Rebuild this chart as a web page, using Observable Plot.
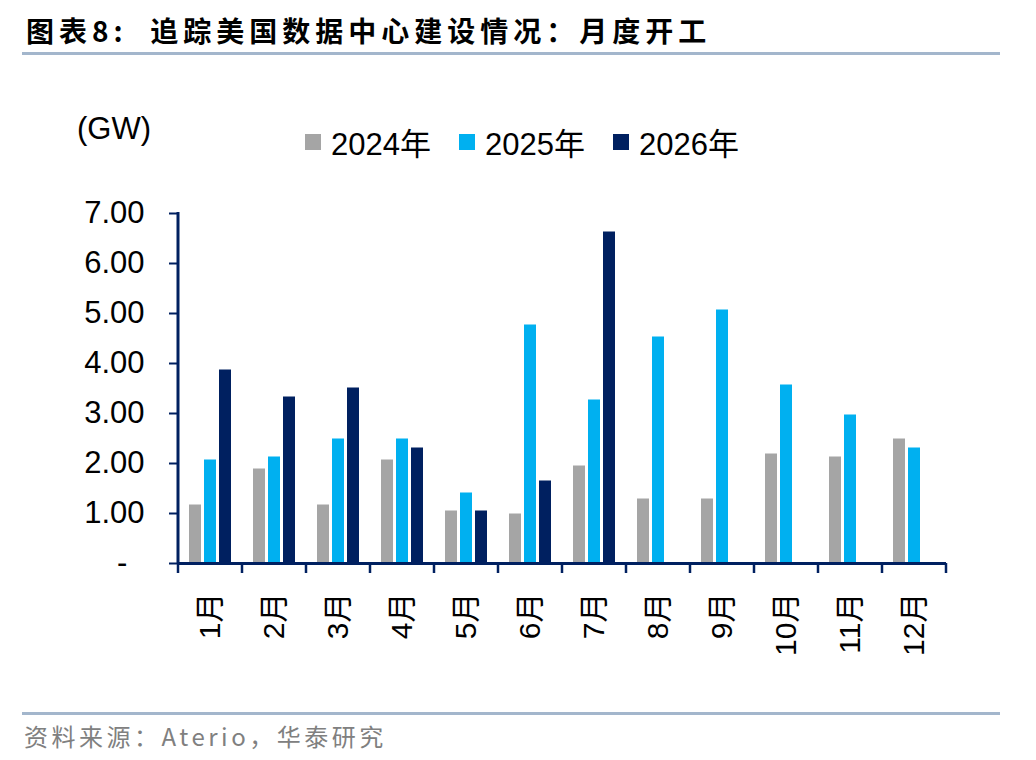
<!DOCTYPE html>
<html>
<head>
<meta charset="utf-8">
<script src="https://cdn.jsdelivr.net/npm/d3@7"></script>
<script src="https://cdn.jsdelivr.net/npm/@observablehq/plot@0.6"></script>
<style>
  html, body { margin: 0; padding: 0; background: #fff; }
  #page { position: relative; width: 1036px; height: 760px; overflow: hidden; font-family: "Liberation Sans", "Noto Sans CJK SC", sans-serif; }
  #title { position: absolute; left: 26px; top: 10px; font-family: "Noto Sans CJK SC", sans-serif; font-weight: 700; font-size: 28px; line-height: 40px; letter-spacing: 5px; color: #000; white-space: pre; }
  .hr { position: absolute; left: 22px; width: 978px; height: 3px; background: #a3b6cc; }
  #unit { position: absolute; left: 77px; top: 111px; font-size: 31px; line-height: 36px; color: #000; }
  #legend { position: absolute; left: 305px; top: 119px; }
  #legend .lg-swatch, #legend [class*="swatch"] { margin-right: 28px !important; }
  #legend svg { margin-right: 10px !important; }
  #legend, #legend * { font-family: "Liberation Sans", "Noto Sans CJK SC", sans-serif; font-size: 31px; color: #000; }
  #chart { position: absolute; left: 0; top: 0; }
  #source { position: absolute; left: 24px; top: 720px; font-family: "Noto Sans CJK SC", sans-serif; font-size: 24px; line-height: 32px; letter-spacing: 3.5px; color: #808080; white-space: pre; }
</style>
</head>
<body>
<div id="page">
  <div id="title">图表8:  追踪美国数据中心建设情况：月度开工</div>
  <div class="hr" style="top:52px"></div>
  <div id="unit">(GW)</div>
  <div id="legend"></div>
  <div id="chart"></div>
  <div class="hr" style="top:712px"></div>
  <div id="source">资料来源：Aterio，华泰研究</div>
</div>
<script>
const months = [1, 2, 3, 4, 5, 6, 7, 8, 9, 10, 11, 12];
const years = [2024, 2025, 2026];
const v2024 = [1.17, 1.89, 1.17, 2.07, 1.05, 0.99, 1.95, 1.29, 1.29, 2.19, 2.13, 2.49];
const v2025 = [2.07, 2.13, 2.49, 2.49, 1.41, 4.77, 3.27, 4.53, 5.07, 3.57, 2.97, 2.31];
const v2026 = [3.87, 3.33, 3.51, 2.31, 1.05, 1.65, 6.63, null, null, null, null, null];
const yTicks = [0, 1, 2, 3, 4, 5, 6, 7];
const colors = ["#a5a5a5", "#00b0f0", "#002060"];
const navy = "#002060";

const series = {2024: v2024, 2025: v2025, 2026: v2026};
const data = months.flatMap((m, i) => years.map(yr => ({month: m, year: yr, value: series[yr][i]})))
  .filter(d => d.value != null);

const svg = Plot.plot({
  width: 1036,
  height: 690,
  marginTop: 213,
  marginBottom: 127,
  marginLeft: 177,
  marginRight: 90,
  style: {fontFamily: "Liberation Sans, Noto Sans CJK SC, sans-serif", fontSize: "31px", color: "#000", background: "transparent"},
  fx: {domain: months, padding: 0, label: null},
  x: {domain: years, paddingInner: 0.2, paddingOuter: 0.73, axis: null},
  y: {domain: [0, 7], label: null},
  color: {domain: years, range: colors},
  marks: [
    Plot.barY(data, {fx: "month", x: "year", y: "value", fill: "year"}),
    Plot.ruleY([0], {stroke: navy, strokeWidth: 3}),
    Plot.axisY({ticks: yTicks, tickSize: 9, tickPadding: 25, stroke: navy, strokeWidth: 2, fontSize: 31,
      tickFormat: d => d === 0 ? "-\u00a0\u00a0" : d.toFixed(2), label: null}),
    Plot.axisFx({anchor: "bottom", tickSize: 0, tickPadding: 29, tickRotate: -90, fontSize: 30,
      tickFormat: d => d + "月", label: null})
  ]
});
document.getElementById("chart").appendChild(svg);

// axis lines and boundary ticks from Plot's own scales
const fx = svg.scale("fx"), y = svg.scale("y");
const bw = fx.bandwidth;
const y0 = y.apply(0), y7 = y.apply(7);
const left = fx.apply(months[0]);
const g = d3.select(svg).append("g").attr("stroke", navy);
g.append("line").attr("x1", left).attr("x2", left).attr("y1", y7 - 1).attr("y2", y0 + 1).attr("stroke-width", 3);
const bounds = months.map(m => fx.apply(m)).concat([fx.apply(months[months.length - 1]) + bw]);
g.selectAll("line.tk").data(bounds).join("line").attr("class", "tk")
  .attr("x1", d => d).attr("x2", d => d).attr("y1", y0).attr("y2", y0 + 10).attr("stroke-width", 2.5);

const legend = Plot.legend({
  color: {type: "ordinal", domain: years, range: colors},
  swatchSize: 16,
  className: "lg",
  tickFormat: d => d + "年"
});
document.getElementById("legend").appendChild(legend);
</script>
</body>
</html>
